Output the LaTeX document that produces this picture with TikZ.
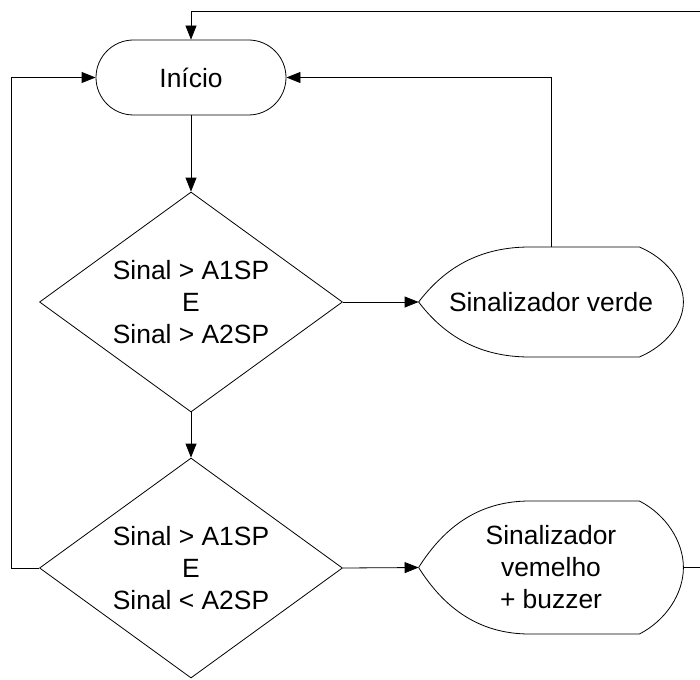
\documentclass[tikz,border=0pt]{standalone}
\usepackage{fontspec}
\setmainfont{Liberation Sans}
\usetikzlibrary{shapes.geometric,arrows.meta,calc}

% Outline of a "display" flowchart symbol around a node:
% #1 = node name, #2 = half of the node height
\newcommand\displayoutline[2]{%
  \draw (#1.west)
    .. controls ($(#1.west)+(26,{-0.62*#2})$) and ($(#1.west)+(61,-#2)$) .. ($(#1.west)+(111,-#2)$)
    -- ($(#1.east)+(-44,-#2)$)
    .. controls ($(#1.east)+(-18,{-0.8*#2})$) and ($(#1.east)+(0,{-0.4*#2})$) .. (#1.east)
    .. controls ($(#1.east)+(0,{0.4*#2})$) and ($(#1.east)+(-18,{0.8*#2})$) .. ($(#1.east)+(-44,#2)$)
    -- ($(#1.west)+(111,#2)$)
    .. controls ($(#1.west)+(61,#2)$) and ($(#1.west)+(26,{0.62*#2})$) .. (#1.west);
}

\begin{document}
\begin{tikzpicture}[x=1pt,y=-1pt,
  font=\fontsize{26.4}{32}\selectfont,
  line width=0.8pt,
  terminal/.style={draw, rectangle, rounded corners=37.5pt,
    minimum width=190pt, minimum height=75pt, inner sep=0pt},
  decision/.style={draw, diamond, minimum width=303pt, minimum height=220pt,
    inner sep=0pt, shape aspect=1.377, align=center},
  display/.style={rectangle, minimum width=264pt, inner sep=0pt, align=center},
  flow/.style={-{Triangle[length=14pt,width=11pt]}},
]
\useasboundingbox (0,0) rectangle (700,679);

% nodes
\node[terminal] (start) at (191,77.5) {Início};
\node[decision] (d1) at (191,302) {Sinal > A1SP\\E\\Sinal > A2SP};
\node[decision] (d2) at (191,568) {Sinal > A1SP\\E\\Sinal < A2SP};
\node[display, minimum height=110pt] (green) at (551,302) {Sinalizador verde};
\node[display, minimum height=133pt] (red) at (551,567.5) {Sinalizador\\vemelho\\+ buzzer};
\displayoutline{green}{55}
\displayoutline{red}{66.5}

% connectors
\coordinate (rloop) at (702,11);
\draw[flow] (start.south) -- (d1.north);
\draw[flow] (d1.south) -- (d2.north);
\draw[flow] (d1.east) -- (green.west);
\draw[flow] (d2.east) -- (red.west);
\draw[flow] (green.north) |- (start.east);
\draw[flow] (d2.west) -- ++(-28,0) |- (start.west);
\draw[flow] (red.east) -| (rloop) -| (start.north);
\end{tikzpicture}
\end{document}
